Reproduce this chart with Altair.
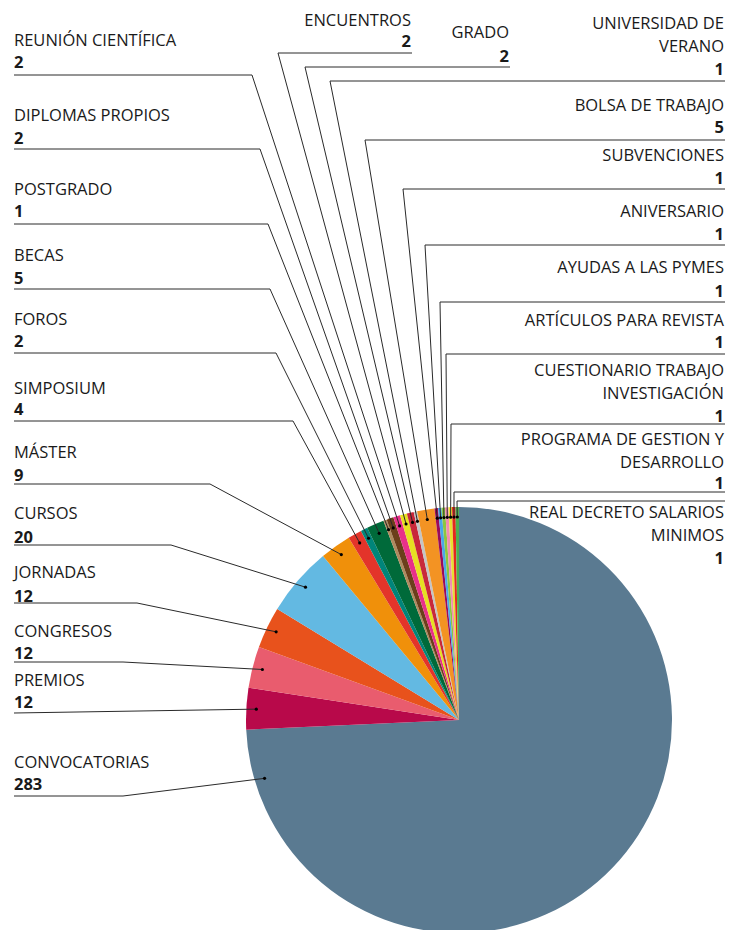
import math
import altair as alt
import pandas as pd

# ---------------- data ----------------
categories = [
    "CONVOCATORIAS", "PREMIOS", "CONGRESOS", "JORNADAS", "CURSOS", "MÁSTER",
    "SIMPOSIUM", "FOROS", "BECAS", "POSTGRADO", "DIPLOMAS PROPIOS",
    "REUNIÓN CIENTÍFICA", "ENCUENTROS", "GRADO", "UNIVERSIDAD DE VERANO",
    "BOLSA DE TRABAJO", "SUBVENCIONES", "ANIVERSARIO", "AYUDAS A LAS PYMES",
    "ARTÍCULOS PARA REVISTA", "CUESTIONARIO TRABAJO INVESTIGACIÓN",
    "PROGRAMA DE GESTION Y DESARROLLO", "REAL DECRETO SALARIOS MINIMOS",
]
values = [283, 12, 12, 12, 20, 9, 4, 2, 5, 1, 2, 2, 2, 2, 1, 5, 1, 1, 1, 1, 1, 1, 1]
label_lines = [
    ["CONVOCATORIAS"], ["PREMIOS"], ["CONGRESOS"], ["JORNADAS"], ["CURSOS"],
    ["MÁSTER"], ["SIMPOSIUM"], ["FOROS"], ["BECAS"], ["POSTGRADO"],
    ["DIPLOMAS PROPIOS"], ["REUNIÓN CIENTÍFICA"], ["ENCUENTROS"], ["GRADO"],
    ["UNIVERSIDAD DE", "VERANO"], ["BOLSA DE TRABAJO"], ["SUBVENCIONES"],
    ["ANIVERSARIO"], ["AYUDAS A LAS PYMES"], ["ARTÍCULOS PARA REVISTA"],
    ["CUESTIONARIO TRABAJO", "INVESTIGACIÓN"],
    ["PROGRAMA DE GESTION Y", "DESARROLLO"],
    ["REAL DECRETO SALARIOS", "MINIMOS"],
]

# ---------------- style / layout ----------------
colors = [
    "#5a7a91", "#b8094a", "#e95c6e", "#e8521c", "#63b9e2", "#f0900a",
    "#e3342a", "#00857a", "#006a3a", "#b08a5e", "#6b3f1b", "#e8308a",
    "#e6e022", "#c8283a", "#c4c4c4", "#f39323", "#9b0a5a", "#4aa8e8",
    "#8dc63f", "#f28cb1", "#e8e030", "#e3281e", "#4caf50",
]
# positions in page pixels (chart origin sits at 8,8)
CX, CY, R, DOT_R = 459, 720, 213, 203
RIGHT_EDGE = 724
label_align = ["left"] * 12 + ["right"] * 11
label_x = [14] * 12 + [411, 509] + [RIGHT_EDGE] * 9
name_y = [763, 681, 632, 573, 514, 453, 389, 320, 256, 190, 116, 41,
          21, 33, 24, 106, 156, 212, 268, 321, 371, 440, 513]
value_y = [785, 703, 654, 597, 538, 476, 410, 342, 279, 212, 139, 63,
           42, 57, 70, 128, 179, 235, 292, 343, 417, 484, 559]
underline_y = [796, 713, 662, 603, 545, 484, 421, 353, 289, 224, 149, 75,
               53, 67, 81, 140, 189, 245, 302, 354, 424, 492, 501]
elbow_x = [123, None, 123, 137, 171, 210, 293, 276, 270, 268, 260, 252,
           278, 305, 330, 365, 403, 425, 440, 446, 451, 454, 457]
line_start_x = [14] * 12 + [412, 510] + [725] * 9
dot_angle_override = {"CONVOCATORIAS": 253.3}
LINE_GAP = 23
FONT = "Open Sans"
FS = 16.5

W, H = 717, 922
xs = alt.Scale(domain=[8, 8 + W], range=[0, W])
ys = alt.Scale(domain=[8, 8 + H], range=[0, H])

# ---------------- derived tables ----------------
total = sum(values)
pie_df = pd.DataFrame({"category": categories, "value": values,
                       "idx": list(range(len(values)))})

lines_rows, dots_rows, text_rows = [], [], []
cum = 0
for i, cat in enumerate(categories):
    v = values[i]
    ang = (cum + v / 2) / total * 360
    cum += v
    ang = dot_angle_override.get(cat, ang)
    a = math.radians(ang)
    dx = CX + DOT_R * math.sin(a)
    dy = CY - DOT_R * math.cos(a)
    dots_rows.append({"category": cat, "px": dx, "py": dy})
    pts = [(line_start_x[i], underline_y[i])]
    if elbow_x[i] is not None:
        pts.append((elbow_x[i], underline_y[i]))
    pts.append((dx, dy))
    for s, (px, py) in enumerate(pts):
        lines_rows.append({"category": cat, "seq": s, "px": px, "py": py})
    for j, t in enumerate(label_lines[i]):
        text_rows.append({"px": label_x[i], "py": name_y[i] + j * LINE_GAP,
                          "text": t, "align": label_align[i], "bold": False})
    text_rows.append({"px": label_x[i], "py": value_y[i], "text": str(v),
                      "align": label_align[i], "bold": True})

lines_df = pd.DataFrame(lines_rows)
dots_df = pd.DataFrame(dots_rows)
text_df = pd.DataFrame(text_rows)

# ---------------- chart ----------------
pie = alt.Chart(pie_df).mark_arc(radius=R).encode(
    theta=alt.Theta("value:Q", stack=True),
    order=alt.Order("idx:Q"),
    color=alt.Color("category:N", scale=alt.Scale(domain=categories, range=colors),
                    legend=None),
    x=alt.value(CX - 8),
    y=alt.value(CY - 8),
)

leaders = alt.Chart(lines_df).mark_line(color="#2a2a2a", strokeWidth=1).encode(
    x=alt.X("px:Q", scale=xs, axis=None),
    y=alt.Y("py:Q", scale=ys, axis=None),
    detail="category:N",
    order="seq:Q",
)

dots = alt.Chart(dots_df).mark_circle(size=10, color="#000000", opacity=1).encode(
    x=alt.X("px:Q", scale=xs, axis=None),
    y=alt.Y("py:Q", scale=ys, axis=None),
)

text_layers = []
for al in ["left", "right"]:
    for b in [False, True]:
        sub = text_df[(text_df["align"] == al) & (text_df["bold"] == b)]
        text_layers.append(
            alt.Chart(sub).mark_text(
                align=al, baseline="middle", font=FONT, fontSize=FS,
                fontWeight="bold" if b else "normal", color="#1a1a1a",
            ).encode(
                x=alt.X("px:Q", scale=xs, axis=None),
                y=alt.Y("py:Q", scale=ys, axis=None),
                text="text:N",
            )
        )

chart = alt.layer(pie, leaders, dots, *text_layers).properties(
    width=W, height=H, padding=0,
    autosize=alt.AutoSizeParams(type="none"),
    background="white",
).configure_view(strokeWidth=0)

chart.save("out.html", embed_options={"renderer": "svg", "actions": False})
